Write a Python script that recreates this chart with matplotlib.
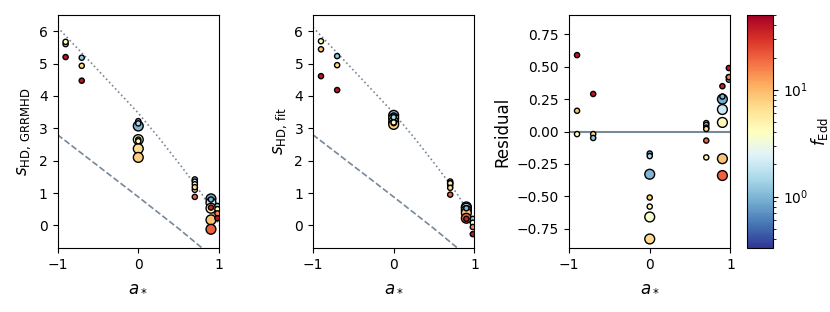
import numpy as np
import matplotlib
matplotlib.use("Agg")
import matplotlib.pyplot as plt
from matplotlib.colors import LogNorm

# --- data ---
spin = [-0.9, -0.9, -0.9,
        -0.7, -0.7, -0.7,
        0, 0, 0, 0, 0, 0, 0, 0,
        0.7, 0.7, 0.7, 0.7, 0.7, 0.7,
        0.9, 0.9, 0.9, 0.9, 0.9, 0.9, 0.9,
        0.98, 0.98, 0.98, 0.98]
fedd = [40, 9, 4,
        40, 7, 1.2,
        1.0, 3.5, 7, 8, 0.8, 1.5, 8, 4,
        1.0, 2.0, 4, 5, 7, 20,
        0.9, 2.0, 4.5, 9, 20, 35, 1.0,
        1.2, 4, 15, 40]
big = [0, 0, 0,
       0, 0, 0,
       1, 1, 1, 1, 0, 0, 0, 0,
       0, 0, 0, 0, 0, 0,
       1, 1, 1, 1, 1, 0, 0,
       0, 0, 0, 0]
s_grrmhd = [5.20, 5.60, 5.67,
            4.47, 4.93, 5.18,
            3.07, 2.65, 2.37, 2.10, 3.22, 3.15, 2.65, 2.60,
            1.42, 1.35, 1.27, 1.10, 1.18, 0.88,
            0.82, 0.70, 0.53, 0.17, -0.12, 0.55, 0.80,
            0.60, 0.50, 0.37, 0.22]
s_fit = [4.61, 5.44, 5.69,
         4.18, 4.95, 5.23,
         3.40, 3.31, 3.20, 3.12, 3.39, 3.34, 3.16, 3.18,
         1.355, 1.30, 1.24, 1.30, 1.16, 0.95,
         0.57, 0.53, 0.46, 0.38, 0.22, 0.20, 0.53,
         0.20, 0.08, -0.05, -0.27]

# reference curves
a_curve = [-1, -0.5, 0, 0.25, 0.5, 0.7, 0.8, 0.9, 1.0]
upper_curve = [6.12, 4.80, 3.47, 2.72, 1.93, 1.27, 0.92, 0.52, 0.0]
a_line = [-1, -0.5, 0, 0.5, 0.8, 1.0]
lower_line = [2.8, 1.84, 0.88, -0.1, -0.72, -1.1]

spin = np.array(spin)
fedd = np.array(fedd)
sizes = np.where(np.array(big) == 1, 50, 14)
s_grrmhd = np.array(s_grrmhd)
s_fit = np.array(s_fit)
resid = s_grrmhd - s_fit

norm = LogNorm(vmin=0.33, vmax=50)
cmap = "RdYlBu_r"
lcol = "lightslategray"

fig = plt.figure(figsize=(8.3, 3.12), dpi=100)
ax1 = fig.add_axes([0.0693, 0.205, 0.1946, 0.747])
ax2 = fig.add_axes([0.377, 0.205, 0.1946, 0.747])
ax3 = fig.add_axes([0.6855, 0.205, 0.1946, 0.747])
cax = fig.add_axes([0.900, 0.205, 0.0313, 0.747])

for ax, yv in [(ax1, s_grrmhd), (ax2, s_fit)]:
    ax.plot(a_curve, upper_curve, ls=":", color=lcol, lw=1.2)
    ax.plot(a_line, lower_line, ls="--", color=lcol, lw=1.2)
    order = np.argsort(-sizes, kind="stable")
    ax.scatter(spin[order], yv[order], c=fedd[order], s=sizes[order],
               cmap=cmap, norm=norm, edgecolors="k", linewidths=1, zorder=3)
    ax.set_xlim(-1, 1)
    ax.set_ylim(-0.7, 6.5)
    ax.set_yticks([0, 1, 2, 3, 4, 5, 6])
    ax.set_xticks([-1, 0, 1])
    ax.set_xlabel(r"$a_*$", fontsize=12)

ax1.set_ylabel(r"$s_{\rm HD,\,GRRMHD}$", fontsize=12)
ax2.set_ylabel(r"$s_{\rm HD,\,fit}$", fontsize=12)

ax3.axhline(0, color=lcol, lw=1.5)
sc3 = ax3.scatter(spin, resid, c=fedd, s=sizes, cmap=cmap, norm=norm,
                  edgecolors="k", linewidths=1, zorder=3)
ax3.set_xlim(-1, 1)
ax3.set_ylim(-0.9, 0.9)
ax3.set_xticks([-1, 0, 1])
ax3.set_yticks([-0.75, -0.5, -0.25, 0, 0.25, 0.5, 0.75])
ax3.set_xlabel(r"$a_*$", fontsize=12)
ax3.set_ylabel("Residual", fontsize=12)

cb = fig.colorbar(sc3, cax=cax)
cb.set_label(r"$f_{\rm Edd}$", fontsize=12, labelpad=1)

fig.savefig("out.png", dpi=100)
